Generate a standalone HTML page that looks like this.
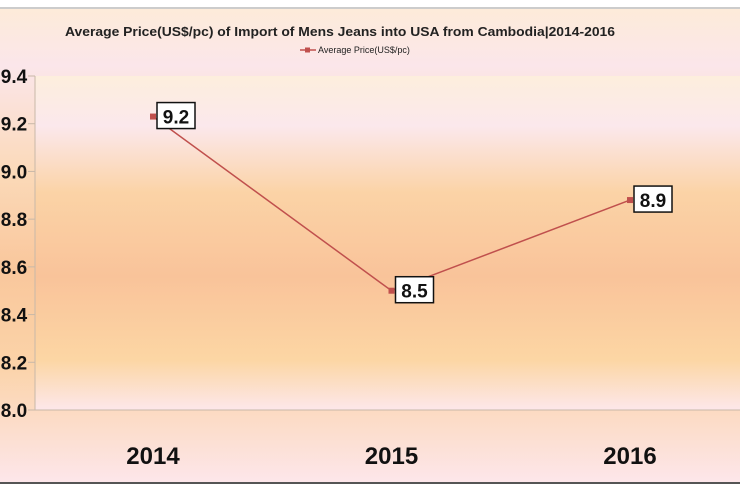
<!DOCTYPE html>
<html><head><meta charset="utf-8"><style>
body{margin:0;width:740px;height:493px;overflow:hidden;background:#fff;font-family:"Liberation Sans",sans-serif}
</style></head><body>
<svg width="740" height="493" viewBox="0 0 740 493">
<defs>
<linearGradient id="og" x1="0" y1="0" x2="0" y2="1">
<stop offset="0" stop-color="#fdebd9"/><stop offset="0.12" stop-color="#fbe6ea"/>
<stop offset="0.35" stop-color="#fbd9b8"/><stop offset="0.55" stop-color="#f9c79c"/>
<stop offset="0.75" stop-color="#fbd3a8"/><stop offset="1" stop-color="#fde6ea"/>
</linearGradient>
<linearGradient id="pg" x1="0" y1="0" x2="0" y2="1">
<stop offset="0" stop-color="#fdeedd"/><stop offset="0.15" stop-color="#fbe8ec"/>
<stop offset="0.35" stop-color="#fbd3a6"/><stop offset="0.6" stop-color="#f9c39a"/>
<stop offset="0.85" stop-color="#fcd6a4"/><stop offset="1" stop-color="#fde7ea"/>
</linearGradient>
</defs>
<rect x="0" y="9" width="740" height="473" fill="url(#og)"/>
<line x1="0" y1="8" x2="740" y2="8" stroke="#ccc" stroke-width="2"/>
<line x1="0" y1="483" x2="740" y2="483" stroke="#555" stroke-width="2"/>
<rect x="35" y="76" width="705" height="334" fill="url(#pg)"/>
<line x1="35" y1="76" x2="35" y2="410" stroke="#c8b8a8"/>
<line x1="28" y1="410" x2="740" y2="410" stroke="#c8b8a8"/>
<text x="65" y="36" textLength="550" lengthAdjust="spacingAndGlyphs" font-size="12.5" font-weight="bold" fill="#222">Average Price(US$/pc) of Import of Mens Jeans into USA from Cambodia|2014-2016</text>
<g>
<line x1="300" y1="50" x2="316" y2="50" stroke="#c0504d" stroke-width="1.5"/>
<rect x="305" y="47.5" width="5" height="5" fill="#c0504d"/>
<text x="318" y="53" font-size="9" fill="#222">Average Price(US$/pc)</text>
</g>
<g id="axes"></g>
<g id="marks"></g>
</svg>
<script>
const categories=["2014","2015","2016"];
const values=[9.23,8.5,8.88];
const valueLabels=["9.2","8.5","8.9"];
const yTicks=[8.0,8.2,8.4,8.6,8.8,9.0,9.2,9.4];
const yTickLabels=["8.0","8.2","8.4","8.6","8.8","9.0","9.2","9.4"];
const NS="http://www.w3.org/2000/svg";
function y(v){return 410-(v-8.0)/1.4*334;}
function x(i){return 153+i*238.5;}
function mk(t,a,p){const e=document.createElementNS(NS,t);for(const k in a)e.setAttribute(k,a[k]);p.appendChild(e);return e;}
const ax=document.getElementById('axes'),mg=document.getElementById('marks');
yTicks.forEach((t,i)=>{
 const l=mk('line',{x1:28,x2:35,y1:y(t),y2:y(t),stroke:'#c8b8a8'},ax);
 
 
 const tx=mk('text',{x:14,y:y(t)+7,'text-anchor':'middle','font-size':19,'font-weight':'bold',fill:'#111'},ax);
 tx.textContent=yTickLabels[i];
 
 
});
categories.forEach((c,i)=>{
 const tx=mk('text',{x:x(i),y:464,'text-anchor':'middle','font-size':24,'font-weight':'bold',fill:'#111'},ax);
 tx.textContent=c;
 
 
});
const pl=mk('polyline',{points:values.map((v,i)=>x(i)+','+y(v)).join(' '),fill:'none',stroke:'#c0504d','stroke-width':1.5},mg);


values.forEach((v,i)=>{
 const m=mk('rect',{x:x(i)-3,y:y(v)-3,width:6,height:6,fill:'#c0504d'},mg);
 
 
 const g=mk('g',{},mg);
 
 
 mk('rect',{x:x(i)+4,y:y(v)-14,width:38,height:26,fill:'#fff',stroke:'#111','stroke-width':1.5},g);
 const t=mk('text',{x:x(i)+23,y:y(v)+7,'text-anchor':'middle','font-size':19,'font-weight':'bold',fill:'#111'},g);
 t.textContent=valueLabels[i];
});
</script>
</body></html>
